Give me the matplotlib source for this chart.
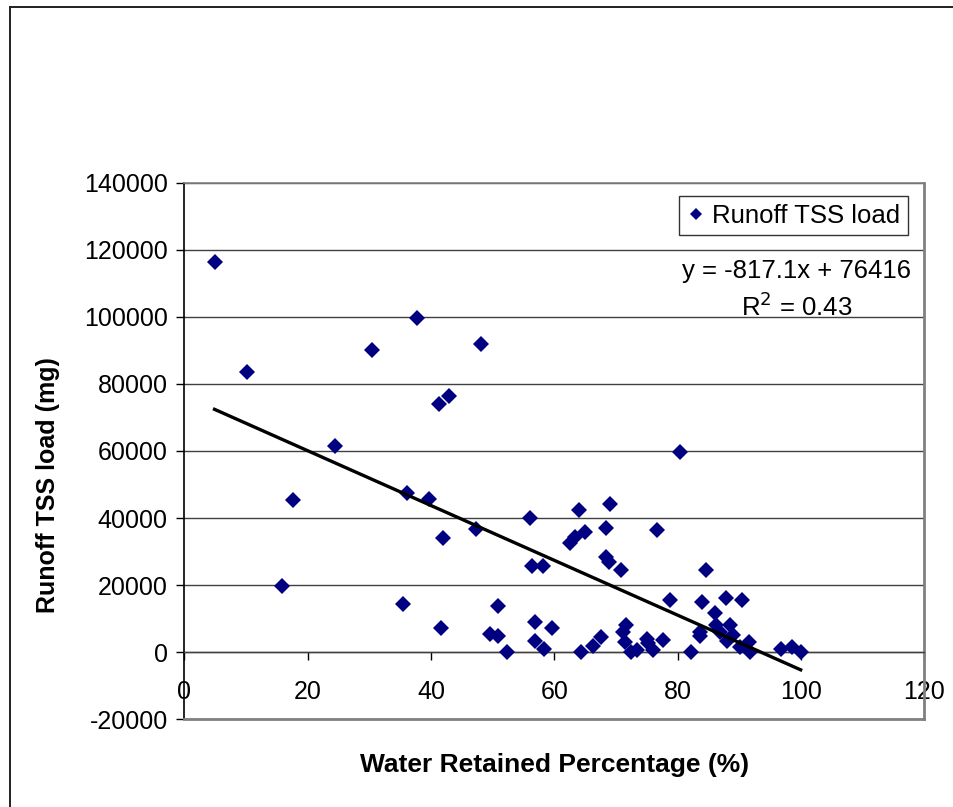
import matplotlib
matplotlib.use("Agg")
import matplotlib.pyplot as plt
from matplotlib.lines import Line2D
import numpy as np

plt.rcParams['font.family'] = ['Liberation Sans', 'DejaVu Sans']

# Data
water_retained = [4.9, 10.1, 15.9, 17.6, 24.4, 30.5, 35.4, 36.1, 37.7, 39.6,
                  41.3, 41.6, 41.9, 42.9, 47.3, 48.1, 49.6, 50.8, 50.9, 52.3,
                  56.1, 56.4, 56.8, 56.8, 58.1, 58.4, 59.7, 62.6, 63.4, 64.0,
                  64.3, 64.9, 66.2, 67.5, 68.4, 68.4, 68.8, 69.1, 70.8, 71.1,
                  71.7, 71.4, 72.4, 73.4, 75.0, 75.2, 76.0, 76.6, 77.6, 78.8,
                  80.4, 82.1, 83.6, 83.7, 84.0, 84.6, 86.0, 86.3, 86.8, 87.9,
                  88.0, 88.5, 89.0, 90.1, 90.5, 91.5, 91.8, 96.7, 98.6, 99.95]
tss_load = [116200, 83500, 19800, 45500, 61500, 90100, 14400, 47400, 99600, 45600,
            74100, 7300, 34100, 76500, 36700, 91900, 5500, 13900, 4800, 0,
            40000, 25800, 9100, 3200, 25800, 900, 7300, 32700, 34300, 42400,
            0, 35900, 1900, 4400, 37100, 28500, 26900, 44200, 24500, 6100,
            8000, 3000, 100, 800, 3900, 2700, 700, 36500, 3700, 15700,
            59700, 100, 6100, 4700, 15100, 24600, 11600, 8100, 6100, 16200,
            3200, 8100, 5200, 1700, 15600, 3000, 100, 900, 1600, 100]

slope = -817.1
intercept = 76416
r_squared = 0.43

x_ticks = [0, 20, 40, 60, 80, 100, 120]
y_ticks = [-20000, 0, 20000, 40000, 60000, 80000, 100000, 120000, 140000]

W, H = 954, 807
fig = plt.figure(figsize=(W / 100, H / 100), dpi=100)
fig.patch.set_facecolor('white')

left, right, top, bottom = 184.3, 924.3, 182.6, 719.3
ax = fig.add_axes([left / W, 1 - bottom / H, (right - left) / W, (bottom - top) / H])
ax.set_xlim(0, 120)
ax.set_ylim(-20000, 140000)

ax.set_yticks(y_ticks)
ax.set_xticks(x_ticks)
ax.yaxis.grid(True, color='#404040', linewidth=1.0)
ax.set_axisbelow(True)

ax.spines['left'].set_color('black')
ax.spines['left'].set_linewidth(1.2)
ax.spines['bottom'].set_position(('data', 0))
ax.spines['bottom'].set_color('#404040')
ax.spines['bottom'].set_linewidth(1.0)
ax.spines['top'].set_color('#808080')
ax.spines['top'].set_linewidth(1.2)
ax.spines['right'].set_color('#808080')
ax.spines['right'].set_linewidth(2.0)

ax.plot([0, 1], [0, 0], transform=ax.transAxes, color='#808080', lw=2.0, clip_on=False, zorder=3)

ax.tick_params(axis='y', direction='out', length=6, width=1.0, pad=6, labelsize=18, colors='black')
ax.tick_params(axis='x', direction='out', length=6, width=1.0, pad=14, labelsize=18, colors='black')
ax.set_yticklabels([str(v) for v in y_ticks])
ax.set_xticklabels([str(v) for v in x_ticks])

ax.plot(water_retained, tss_load, linestyle='none', marker='D', markersize=7.8,
        color='#000080', markeredgewidth=0, label='Runoff TSS load', zorder=4)

xr = np.array([min(water_retained), max(water_retained)])
ax.plot(xr, slope * xr + intercept, color='black', lw=2.4, zorder=5)

leg = ax.legend(loc='upper right', bbox_to_anchor=((908.3 - left) / (right - left), 1 - (196 - top) / (bottom - top)),
                frameon=True, fancybox=False, fontsize=18.5, handlelength=0.7, handletextpad=0.3,
                borderpad=0.3, markerscale=0.75, borderaxespad=0)
leg.get_frame().set_edgecolor('black')
leg.get_frame().set_linewidth(1.0)

fig.text(797 / W, 1 - 290 / H, 'y = -817.1x + 76416\nR$^2$ = 0.43', ha='center', va='center',
         fontsize=18.5, linespacing=1.4)

fig.text(48 / W, 1 - 485 / H, 'Runoff TSS load (mg)', rotation=90, ha='center', va='center',
         fontsize=18, fontweight='bold')
fig.text(555 / W, 1 - 765 / H, 'Water Retained Percentage (%)', ha='center', va='center',
         fontsize=19, fontweight='bold')

fig.add_artist(Line2D([10 / W, 10 / W], [1 - 7 / H, 0], color='#202020', lw=1.4, transform=fig.transFigure))
fig.add_artist(Line2D([10 / W, 1], [1 - 7 / H, 1 - 7 / H], color='#202020', lw=1.4, transform=fig.transFigure))

fig.savefig('out.png', dpi=100)
